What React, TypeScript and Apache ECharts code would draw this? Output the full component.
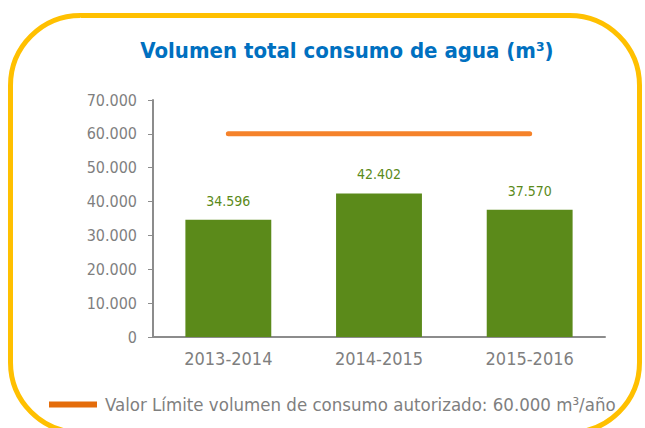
import React, { useEffect, useRef } from "react";
import * as echarts from "echarts";

const categories = ["2013-2014", "2014-2015", "2015-2016"];
const consumo = [34596, 42402, 37570];
const limite = [60000, 60000, 60000];
const limiteName = "Valor Límite volumen de consumo autorizado: 60.000 m³/año";
const titleText = "Volumen total consumo de agua (m³)";

const fmt = (v: number) => String(v).replace(/\B(?=(\d{3})+(?!\d))/g, ".");
const FONT = "'DejaVu Sans Condensed', 'DejaVu Sans', sans-serif";

export default function App() {
  const ref = useRef<HTMLDivElement>(null);
  useEffect(() => {
    const chart = echarts.init(ref.current!, null, { renderer: "svg" });
    chart.setOption({
      animation: false,
      backgroundColor: "#ffffff",
      graphic: [
        {
          type: "rect",
          z: -10,
          shape: { x: 10.5, y: 15.5, width: 629, height: 417, r: 70 },
          style: { fill: "#ffffff", stroke: "#FFC000", lineWidth: 5 },
        },
      ],
      title: {
        text: titleText,
        left: 342,
        textAlign: "center",
        top: 34,
        textStyle: { color: "#0070C0", fontFamily: FONT, fontWeight: "bold", fontSize: 22 },
      },
      legend: {
        data: [{ name: limiteName, itemStyle: { color: "#E46C0A" } }],
        left: 44,
        top: 390,
        icon: "rect",
        itemWidth: 48,
        itemHeight: 6,
        itemGap: 6,
        textStyle: { color: "#7F7F7F", fontFamily: FONT, fontSize: 18.5, padding: [0, 0, 0, 3] },
      },
      grid: { left: 153, right: 40, top: 100, bottom: 91 },
      xAxis: {
        type: "category",
        data: categories,
        axisLine: { lineStyle: { color: "#8C8C8C", width: 2 } },
        axisTick: { show: false },
        axisLabel: { color: "#7F7F7F", fontFamily: FONT, fontSize: 18, margin: 12 },
      },
      yAxis: {
        type: "value",
        min: 0,
        max: 70000,
        interval: 10000,
        axisLine: { show: true, lineStyle: { color: "#8C8C8C", width: 2 } },
        axisTick: { show: true, length: 5, lineStyle: { color: "#8C8C8C" } },
        splitLine: { show: false },
        axisLabel: {
          color: "#7F7F7F",
          fontFamily: FONT,
          fontSize: 16,
          margin: 16,
          formatter: (v: number) => fmt(v),
        },
      },
      series: [
        {
          type: "bar",
          data: consumo,
          barWidth: "57%",
          itemStyle: { color: "#5B8A1A" },
          label: {
            show: true,
            position: "top",
            distance: 12,
            color: "#5B8A1A",
            fontFamily: FONT,
            fontSize: 14,
            formatter: (p: any) => fmt(p.value),
          },
        },
        {
          type: "line",
          name: limiteName,
          data: limite,
          symbol: "none",
          lineStyle: { color: "#F5822A", width: 5, cap: "round" },
          itemStyle: { color: "#E46C0A" },
        },
      ],
    });
    return () => chart.dispose();
  }, []);
  return (
    <div
      ref={ref}
      style={{ position: "fixed", left: 0, top: 0, width: 645, height: 428 }}
    />
  );
}
